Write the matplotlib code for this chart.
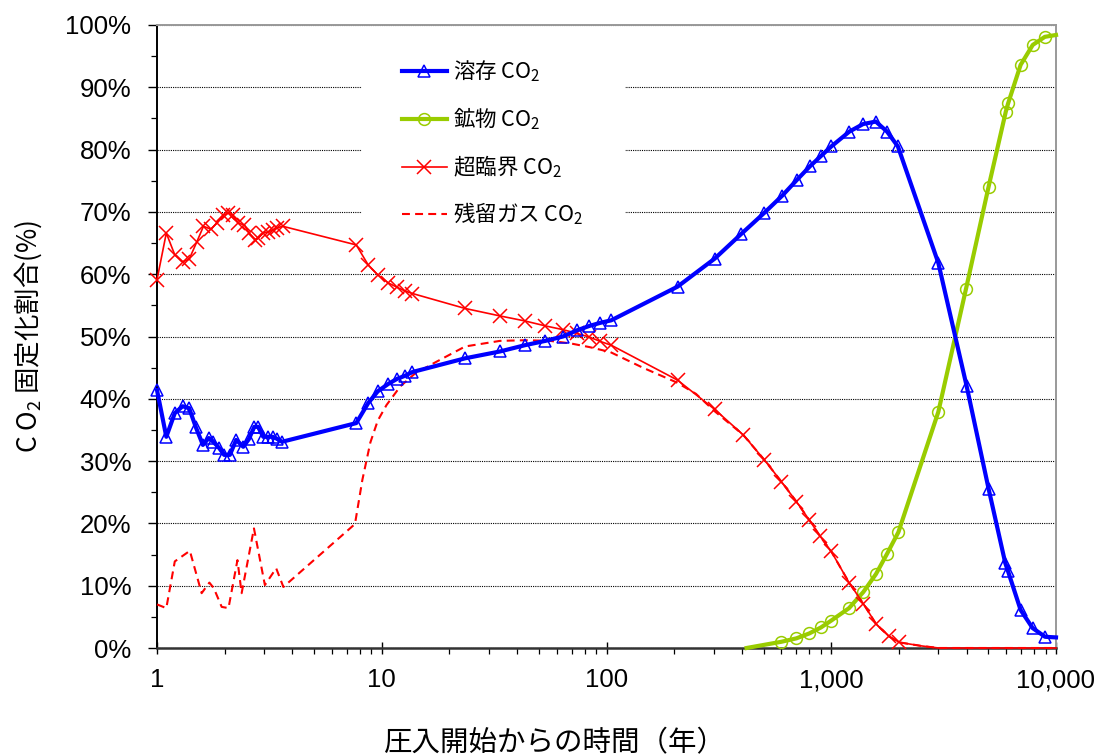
import matplotlib
matplotlib.use("Agg")
import matplotlib.pyplot as plt
from matplotlib.ticker import FixedLocator, FixedFormatter, LogLocator, NullFormatter, MultipleLocator
from matplotlib.patches import Rectangle
from matplotlib.font_manager import FontProperties

plt.rcParams['mathtext.default'] = 'regular'

# ---- data (years since start of injection, fraction of CO2 in %) ----
t_dissolved = [1.0, 1.1, 1.2, 1.3, 1.39, 1.49, 1.6, 1.7, 1.78, 1.89, 1.99, 2.11,
               2.25, 2.42, 2.56, 2.71, 2.82, 2.97, 3.13, 3.27, 3.41, 3.6,
               7.7, 8.7, 9.6, 10.7, 11.7, 12.7, 13.7, 23.5, 33.6, 43.3, 53.5,
               64, 74, 84, 94, 105, 207, 303, 396, 502, 605, 706, 803, 902,
               1000, 1205, 1386, 1578, 1770, 1980, 2995, 4000, 5010, 5950,
               6120, 6960, 7870, 8940, 10000]
dissolved = [41.4, 33.9, 37.7, 38.8, 38.5, 35.4, 32.6, 33.7, 33.1, 32.1, 31.0, 31.0,
             33.4, 32.3, 33.5, 35.5, 35.5, 33.9, 33.9, 33.9, 33.6, 33.1,
             36.1, 39.3, 41.2, 42.4, 43.2, 43.7, 44.3, 46.5, 47.6, 48.6, 49.3,
             50.0, 51.0, 51.7, 52.2, 52.6, 58.0, 62.5, 66.4, 69.8, 72.6, 75.2,
             77.3, 79.0, 80.5, 82.9, 84.1, 84.5, 82.9, 80.5, 61.8, 42.1, 25.6,
             13.6, 12.3, 6.1, 3.2, 1.8, 1.7]

t_mineral = [420, 600, 700, 800, 900, 1000, 1200, 1390, 1580, 1770, 1990, 2995,
             3980, 5010, 5980, 6120, 6960, 7880, 8920, 10000]
mineral = [0.0, 1.0, 1.55, 2.35, 3.3, 4.4, 6.4, 9.0, 11.85, 15.1, 18.6, 37.9,
           57.7, 74.0, 86.1, 87.4, 93.6, 96.8, 98.1, 98.4]

t_supercritical = [1.0, 1.1, 1.2, 1.3, 1.39, 1.5, 1.61, 1.74, 1.84, 1.97, 2.08,
                   2.17, 2.3, 2.45, 2.57, 2.73, 2.82, 2.97, 3.13, 3.27, 3.41, 3.62,
                   7.7, 8.7, 9.6, 10.7, 11.7, 12.7, 13.7, 23.5, 33.6, 43.3, 53.5,
                   64, 74, 84, 94, 105, 207, 303, 406, 504, 600, 700, 800, 890,
                   1000, 1200, 1390, 1580, 1800, 2010, 2500, 3000, 10000]
supercritical = [59.1, 66.6, 63.1, 62.0, 62.4, 65.1, 67.7, 67.2, 68.2, 69.5, 69.8,
                 69.5, 68.2, 67.9, 66.6, 65.5, 65.8, 66.6, 66.8, 67.1, 67.4, 67.7,
                 64.7, 61.5, 59.9, 58.6, 57.9, 57.3, 56.9, 54.5, 53.3, 52.5, 51.7,
                 51.1, 50.5, 49.9, 49.2, 48.6, 43.0, 38.3, 34.2, 30.2, 26.7, 23.5,
                 20.5, 18.0, 15.5, 10.5, 7.1, 3.9, 1.9, 0.9, 0.35, 0.0, 0.0]

t_residual = [1.0, 1.1, 1.2, 1.4, 1.58, 1.71, 1.79, 1.94, 2.08, 2.28, 2.38, 2.7,
              3.02, 3.39, 3.65, 7.6, 8.2, 8.9, 9.6, 10.5, 12.1, 14.0, 17.0, 23.5,
              33.6, 43.3, 56, 69, 84, 104, 145, 206, 250, 303, 406, 504, 600,
              700, 800, 890, 1000, 1200, 1390, 1580, 1800, 2010, 2500, 3000, 10000]
residual = [7.0, 6.4, 13.9, 15.6, 8.8, 10.5, 9.6, 6.6, 6.4, 14.1, 8.8, 19.2,
            10.1, 12.8, 9.8, 19.9, 27.0, 33.0, 36.5, 39.0, 42.0, 44.0, 45.7, 48.4,
            49.3, 49.4, 49.3, 48.9, 48.3, 47.5, 45.0, 42.6, 40.8, 38.0, 34.2, 30.2,
            26.7, 23.5, 20.5, 18.0, 15.5, 10.5, 7.1, 3.9, 1.9, 0.9, 0.35, 0.0, 0.0]

labels = ['溶存 CO$_2$', '鉱物 CO$_2$', '超臨界 CO$_2$', '残留ガス CO$_2$']
x_ticks = [1, 10, 100, 1000, 10000]
x_tick_labels = ['1', '10', '100', '1,000', '10,000']
y_ticks = list(range(0, 101, 10))
y_tick_labels = [f'{v}%' for v in y_ticks]

BLUE = '#0000FF'
GREEN = '#99CC00'
RED = '#FF0000'

fig = plt.figure(figsize=(10.98, 7.56), dpi=100)
W, H = 1098, 756
ax = fig.add_axes([157 / W, 1 - 648 / H, (1056 - 157) / W, (648 - 25) / H])
ax.set_xscale('log')
ax.set_xlim(1, 10000)
ax.set_ylim(0, 100)

# series
ax.plot(t_residual, residual, color=RED, lw=1.5, linestyle=(0, (3.8, 2.5)),
        label=labels[3], zorder=3, clip_on=False)
ax.plot(t_mineral, mineral, color=GREEN, lw=3.0, marker='o', ms=8.5,
        mfc='none', mec=GREEN, mew=1.1, markevery=list(range(1, len(t_mineral) - 1)),
        label=labels[1], zorder=4, clip_on=False)
ax.plot(t_supercritical, supercritical, color=RED, lw=1.2, marker='x', ms=10,
        mew=1.1, markevery=list(range(0, len(t_supercritical) - 3)),
        label=labels[2], zorder=5, clip_on=False)
ax.plot(t_dissolved, dissolved, color=BLUE, lw=3.0, marker='^', ms=8.5,
        mfc='none', mec=BLUE, mew=1.1, markevery=list(range(0, len(t_dissolved) - 1)),
        label=labels[0], zorder=6, clip_on=False)

# axes styling
ax.xaxis.set_major_locator(FixedLocator(x_ticks))
ax.xaxis.set_major_formatter(FixedFormatter(x_tick_labels))
ax.xaxis.set_minor_locator(LogLocator(base=10, subs=range(2, 10)))
ax.xaxis.set_minor_formatter(NullFormatter())
ax.yaxis.set_major_locator(FixedLocator(y_ticks))
ax.yaxis.set_major_formatter(FixedFormatter(y_tick_labels))
ax.yaxis.set_minor_locator(MultipleLocator(5))

tick_font = 'Liberation Sans'
ax.tick_params(axis='x', which='major', direction='inout', length=9, width=1,
               pad=10, labelsize=18.5)
ax.tick_params(axis='x', which='minor', direction='out', length=4.5, width=0.9)
ax.tick_params(axis='y', which='major', direction='out', length=6.5, width=1,
               pad=12, labelsize=18.5)
ax.tick_params(axis='y', which='minor', direction='out', length=4.5, width=0.9)
for lab in ax.get_xticklabels() + ax.get_yticklabels():
    lab.set_fontfamily(tick_font)

ax.set_axisbelow(True)
ax.yaxis.grid(True, which='major', color='black', linestyle=(0, (1, 1)), linewidth=0.8)

ax.spines['left'].set_color('black')
ax.spines['left'].set_linewidth(1.4)
ax.spines['bottom'].set_color('#333333')
ax.spines['bottom'].set_linewidth(1.8)
for side in ('top', 'right'):
    ax.spines[side].set_color('#999999')
    ax.spines[side].set_linewidth(1.4)

# white backing behind the legend
ax.add_patch(Rectangle((0.228, 0.67), 0.293, 0.30, transform=ax.transAxes,
                       facecolor='white', edgecolor='none', zorder=1))

handles, labs = ax.get_legend_handles_labels()
order = [labs.index(l) for l in labels]
leg = ax.legend([handles[i] for i in order], [labs[i] for i in order],
                loc='upper left', bbox_to_anchor=(0.272, 0.946), frameon=False,
                prop=FontProperties(family='Noto Sans CJK JP', size=15.5),
                handlelength=2.1, handletextpad=0.3, labelspacing=0.98,
                borderpad=0, borderaxespad=0, numpoints=1)

fig.text(28 / W, 1 - 336 / H, 'C O$_2$ 固定化割合(%)', rotation=90,
         ha='center', va='center',
         fontproperties=FontProperties(family='Noto Sans CJK JP', size=19))
fig.text(555 / W, 1 - 743 / H, '圧入開始からの時間（年）',
         ha='center', va='center',
         fontproperties=FontProperties(family='Noto Sans CJK JP', size=20.5))

fig.savefig('out.png', dpi=100, facecolor='white')
